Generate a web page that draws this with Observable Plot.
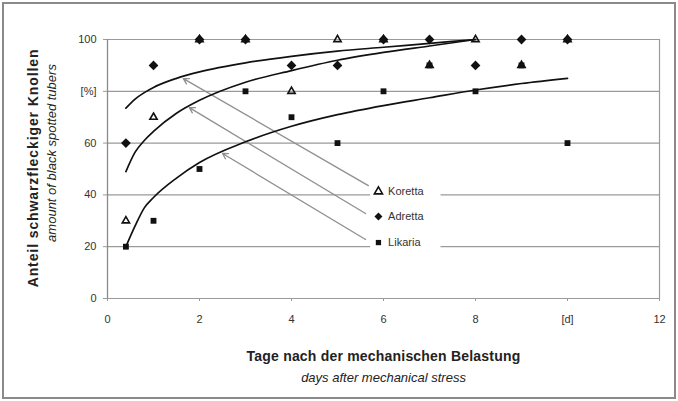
<!DOCTYPE html>
<html>
<head>
<meta charset="utf-8">
<script src="https://cdn.jsdelivr.net/npm/d3@7"></script>
<script src="https://cdn.jsdelivr.net/npm/@observablehq/plot@0.6"></script>
<style>
  html, body { margin: 0; padding: 0; background: #fff; }
  #chart svg { display: block; outline: 2px solid #8a8a8a; outline-offset: -4px; }
</style>
</head>
<body>
<div id="chart"></div>
<script>
// ---- measured data ----
const days    = [0.4, 1, 2, 3, 4, 5, 6, 7, 8, 9, 10];
const koretta = [30, 70, 100, 100, 80, 100, 100, 90, 100, 90, 100];
const adretta = [60, 90, 100, 100, 90, 90, 100, 100, 90, 100, 100];
const likaria = [20, 30, 50, 80, 70, 60, 80, 90, 80, 90, 60];

// ---- trend curves ----
const trendDaysKA    = [0.4, 0.6, 0.8, 1, 1.5, 2, 3, 4, 5, 6, 7, 8];
const trendKoretta   = [73.5, 77, 79.5, 81.5, 85, 87.5, 91, 93.5, 95.5, 97, 98.5, 100];
const trendAdretta   = [49, 56.5, 61, 64.5, 71.5, 76.5, 83.5, 88, 92, 95, 97.5, 100];
const trendDaysL     = [0.4, 0.6, 0.8, 1, 1.5, 2, 3, 4, 5, 6, 7, 8, 9, 10];
const trendLikaria   = [20, 28, 35, 39, 46.5, 52.5, 60.5, 66.5, 71, 74.5, 77.5, 80.5, 83, 85];

// ---- ticks ----
const xTicks = [0, 2, 4, 6, 8, 10, 12];
const xTickLabels = ["0", "2", "4", "6", "8", "[d]", "12"];
const yTicks = [0, 20, 40, 60, 80, 100];
const yTickLabels = ["0", "20", "40", "60", "[%]", "100"];

// ---- titles ----
const yTitle = "Anteil schwarzfleckiger Knollen";
const yTitleEn = "amount of black spotted tubers";
const xTitle = "Tage nach der mechanischen Belastung";
const xTitleEn = "days after mechanical stress";

// ---- legend / leaders ----
const varieties = ["Koretta", "Adretta", "Likaria"];
const legendY = [41.3, 31.7, 21.6];
const leaderTipX = [1.65, 1.78, 2.5];
const leaderTipY = [84.9, 73.7, 56];
const leaderTailX = [5.67, 5.61, 5.61];
const leaderTailY = [43.6, 32.8, 22.8];

const pts = (ys) => days.map((d, i) => ({x: d, y: ys[i]}));
const curve = (xs, ys) => xs.map((d, i) => ({x: d, y: ys[i]}));
const legend = varieties.map((v, i) => ({name: v, y: legendY[i]}));
const leaders = varieties.map((v, i) => ({x1: leaderTailX[i], y1: leaderTailY[i], x2: leaderTipX[i], y2: leaderTipY[i]}));

const font = "'Liberation Sans', Arial, sans-serif";
const grid = "#9a9a9a";

const chart = Plot.plot({
  width: 678,
  height: 401,
  marginLeft: 107,
  marginRight: 19,
  marginTop: 39,
  marginBottom: 103,
  style: {fontFamily: font, fontSize: "11px", background: "#fff", color: "#333"},
  x: {domain: [0, 12]},
  y: {domain: [0, 100]},
  symbol: {domain: varieties, range: ["triangle", "diamond2", "square"]},
  marks: [
    Plot.ruleY(yTicks, {stroke: grid, strokeWidth: 1.2}),
    Plot.rect([{}], {x1: 5.72, x2: 7.25, y1: 17, y2: 46, fill: "#fff"}),
    Plot.ruleX([12], {stroke: grid, strokeWidth: 1.2}),
    Plot.ruleX([0], {stroke: "#8a8a8a", strokeWidth: 1.3}),
    Plot.axisY({ticks: yTicks, tickFormat: (d) => yTickLabels[yTicks.indexOf(d)], tickSize: 4, tickPadding: 7, stroke: grid, label: null, fontSize: 11, fill: "#333"}),
    Plot.axisX({ticks: xTicks, tickFormat: (d) => xTickLabels[xTicks.indexOf(d)], tickSize: 3, tickPadding: 14, stroke: grid, label: null, fontSize: 11, fill: "#333"}),
    Plot.arrow(leaders, {x1: "x1", y1: "y1", x2: "x2", y2: "y2", stroke: "#8f8f8f", strokeWidth: 1.3, headLength: 7}),
    Plot.line(curve(trendDaysKA, trendKoretta), {x: "x", y: "y", curve: "monotone-x", stroke: "#111", strokeWidth: 1.7}),
    Plot.line(curve(trendDaysKA, trendAdretta), {x: "x", y: "y", curve: "monotone-x", stroke: "#111", strokeWidth: 1.7}),
    Plot.line(curve(trendDaysL, trendLikaria), {x: "x", y: "y", curve: "monotone-x", stroke: "#111", strokeWidth: 1.7}),
    Plot.dot(pts(likaria), {x: "x", y: "y", symbol: "square", r: 3.3, fill: "#111"}),
    Plot.dot(pts(adretta), {x: "x", y: "y", symbol: "diamond2", r: 4.4, fill: "#111"}),
    Plot.dot(pts(koretta), {x: "x", y: "y", symbol: "triangle", r: 2.7, fill: "none", stroke: "#111", strokeWidth: 1.6}),
    // legend
    Plot.dot(legend, {x: 5.89, y: "y", symbol: "name", fill: (d) => d.name === "Koretta" ? "none" : "#111", stroke: (d) => d.name === "Koretta" ? "#111" : "none", strokeWidth: 1.6, r: (d) => d.name === "Likaria" ? 2.6 : d.name === "Adretta" ? 3.8 : 2.7}),
    Plot.text(legend, {x: 6.1, y: "y", text: "name", textAnchor: "start", fontSize: 11, fill: "#333"}),
    // axis titles
    Plot.text([yTitle], {frameAnchor: "left", textAnchor: "middle", dx: -74, dy: -1, rotate: -90, fontSize: 14, fontWeight: "bold", fill: "#222"}),
    Plot.text([yTitleEn], {frameAnchor: "left", textAnchor: "middle", dx: -56, dy: -16, rotate: -90, fontSize: 13, fontStyle: "italic", fill: "#222"}),
    Plot.text([xTitle], {frameAnchor: "bottom", dy: 62, fontSize: 14, fontWeight: "bold", fill: "#222"}),
    Plot.text([xTitleEn], {frameAnchor: "bottom", dy: 83, fontSize: 13, fontStyle: "italic", fill: "#222"})
  ]
});
d3.select(chart).selectAll("text").filter(function () { return this.textContent === yTitle; }).style("letter-spacing", "0.9px");
d3.select(chart).selectAll("text").filter(function () { return this.textContent === xTitle; }).style("letter-spacing", "0.2px");
document.getElementById("chart").append(chart);
</script>
</body>
</html>
